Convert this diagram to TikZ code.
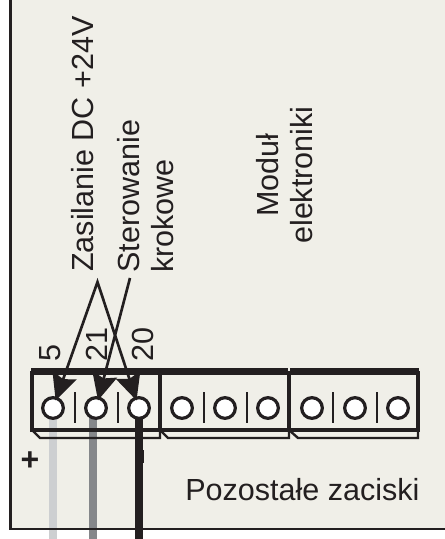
\documentclass[tikz,border=0pt]{standalone}
\usepackage{fontspec}
\setmainfont{Liberation Sans}
\usetikzlibrary{arrows.meta}
\definecolor{panel}{HTML}{F0EFE8}
\definecolor{ink}{HTML}{231F20}
\definecolor{lightwire}{HTML}{CDCFD1}
\definecolor{midwire}{HTML}{85878A}
\tikzstyle{base} = [inner sep=0pt, text=ink, font=\fontsize{22.9}{25.5}\selectfont]
\tikzstyle{label} = [base, rotate=90, anchor=base west]
\tikzstyle{block} = [base, rotate=90, anchor=north west, align=left]
\tikzstyle{terminal} = [circle, draw=ink, line width=2.4pt, fill=white, minimum size=15.5pt, inner sep=0pt]
\tikzstyle{divider} = [draw=ink, line width=2.1pt]
\tikzstyle{housing} = [draw=ink, line width=2.4pt]
\tikzstyle{pointer} = [ink, line width=2pt, shorten <=-3pt, shorten >=-3pt, {Stealth[length=20pt,width=19pt,inset=3pt,fill=ink]}-{Stealth[length=20pt,width=19pt,inset=3pt,fill=ink]}]
\tikzstyle{pointer1} = [ink, line width=2pt, shorten >=-3pt, -{Stealth[length=20pt,width=19pt,inset=3pt,fill=ink]}]

\begin{document}
\begin{tikzpicture}[x=0.75pt, y=-0.75pt]
    \useasboundingbox (0,0) rectangle (445,539);
    \fill[panel] (11,0) rectangle (445,529);

    \coordinate (wire5) at (53,539);
    \coordinate (wire21) at (93,539);
    \coordinate (wire20) at (139,539);
    \coordinate (wire5top) at (53,408);
    \coordinate (wire21top) at (93,408);
    \coordinate (wire20top) at (139,408);
    \draw[lightwire, line width=6pt] (wire5top) -- (wire5);
    \draw[midwire, line width=6pt] (wire21top) -- (wire21);
    \draw[ink, line width=5.4pt] (wire20top) -- (wire20);
    \draw[ink, line width=1.5pt] (143,450) -- (143,463);

    \draw[ink, line width=1.6pt] (10.5,0) -- (10.5,529) -- (445,529);

    \node (t5) [terminal] at (53,408) {};
    \node (t21) [terminal] at (96,408) {};
    \node (t20) [terminal] at (139,408) {};
    \node (t4) [terminal] at (182,408) {};
    \node (t3) [terminal] at (225,408) {};
    \node (t2) [terminal] at (268,408) {};
    \node (t1) [terminal] at (312,408) {};
    \node (t0) [terminal] at (355,408) {};
    \node (tz) [terminal] at (398,408) {};

    \draw[ink, line width=5pt] (31,371.5) -- (288,371.5);
    \draw[ink, line width=5pt] (290,371.5) -- (419,371.5);
    \draw[housing] (32,371) -- (32,430) -- (160,430) -- (160,371);
    \draw[housing, line width=1.8pt] (32,430) -- (40,438) -- (160,438) -- (160,430);
    \draw[housing] (160,430) -- (289,430) -- (289,371);
    \draw[housing, line width=1.8pt] (160,430) -- (168,438) -- (289,438) -- (289,430);
    \draw[housing] (289,430) -- (418,430) -- (418,371);
    \draw[housing, line width=1.8pt] (289,430) -- (298,438) -- (418,438) -- (418,430);

    \draw[divider] (75,392) -- (75,423);
    \draw[divider] (118,392) -- (118,423);
    \draw[divider] (204,392) -- (204,423);
    \draw[divider] (247,392) -- (247,423);
    \draw[divider] (333,392) -- (333,423);
    \draw[divider] (377,392) -- (377,423);

    \coordinate (apex) at (97.5,282);
    \coordinate (steer) at (130,278);
    \draw[pointer] (t5) -- (apex) -- (t20);
    \draw[pointer1] (steer) -- (t21);

    \node (supply) [label] at (93,272) {Zasilanie DC +24V};
    \node (control) [block] at (117,273) {Sterowanie\\krokowe};
    \node (module) [base, rotate=90, align=center] at (285,175) {Moduł\\elektroniki};
    \node (rest) [base, anchor=base west] at (185,500) {Pozostałe zaciski};
    \node (num5) [label] at (60,362) {5};
    \node (num21) [label] at (107,362) {21};
    \node (num20) [label] at (153,362) {20};
    \node (plus) [base, font=\fontsize{24}{27}\selectfont\bfseries] at (30,461) {+};
\end{tikzpicture}
\end{document}
